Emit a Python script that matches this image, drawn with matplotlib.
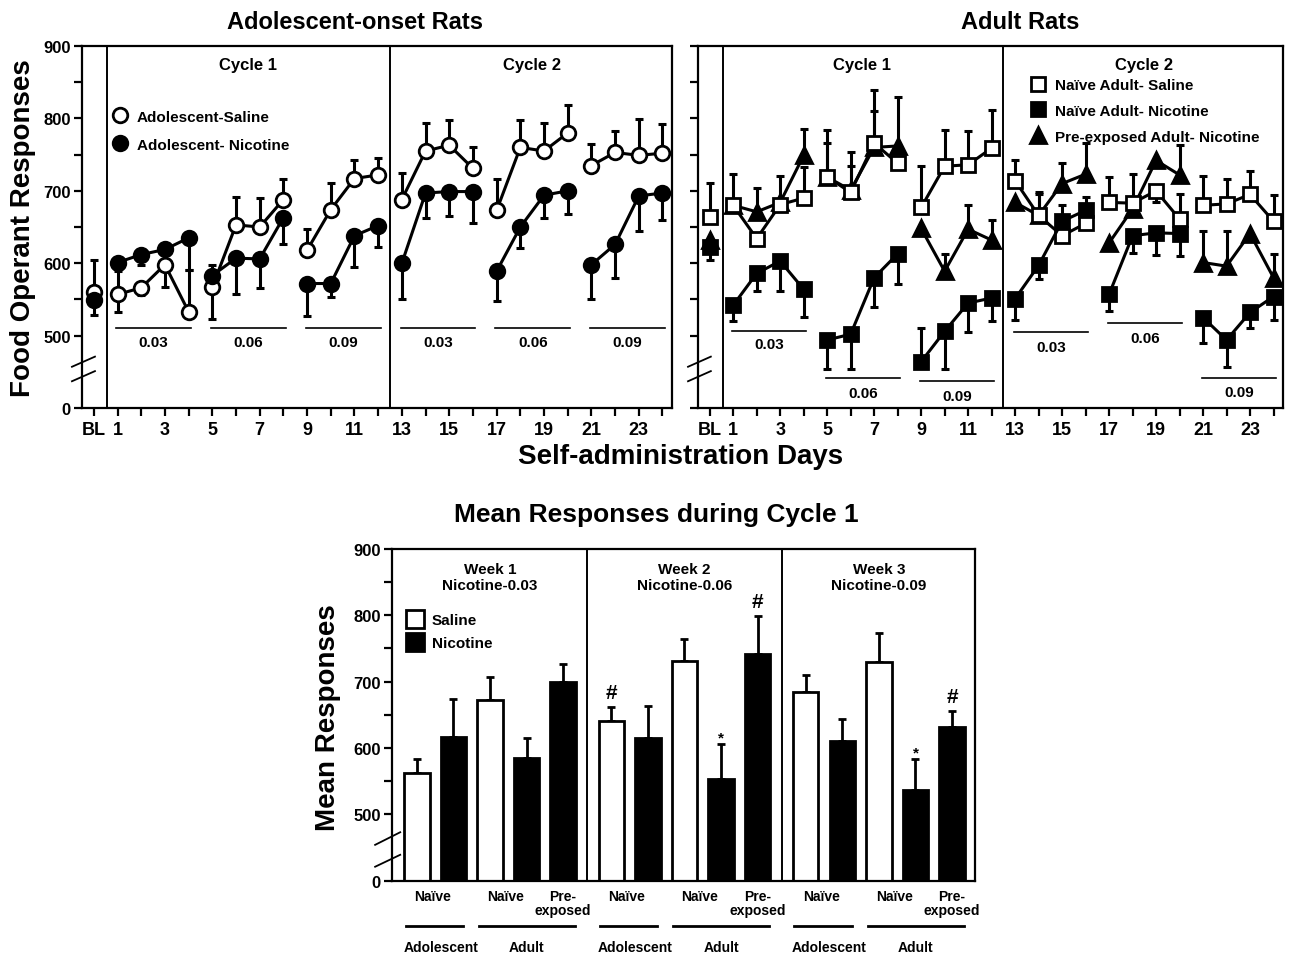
import numpy as np
import matplotlib
matplotlib.use('Agg')
import matplotlib.pyplot as plt
from matplotlib.lines import Line2D
from matplotlib.transforms import blended_transform_factory

plt.rcParams['font.family'] = ['Liberation Sans', 'DejaVu Sans']
plt.rcParams['font.weight'] = 'bold'
plt.rcParams['axes.labelweight'] = 'bold'

# ---------------- data ----------------
days = np.arange(0, 25)          # 0 = BL
day_tick_labels = ['BL'] + [str(d) if d % 2 == 1 else '' for d in range(1, 25)]
doses = ['0.03', '0.06', '0.09', '0.03', '0.06', '0.09']

# Adolescent-onset rats
ado_sal = [560, 557, 566, 598, 533, 567, 653, 650, 688, 618, 674, 717, 722,
           688, 755, 763, 731, 673, 760, 755, 780, 735, 753, 749, 752]
ado_sal_up = [45, 38, 8, 8, 58, 0, 38, 40, 29, 29, 37, 26, 24,
              36, 39, 35, 29, 44, 38, 39, 38, 30, 29, 50, 40]
ado_sal_dn = [0, 24, 10, 31, 0, 44, 0, 0, 0, 0, 0, 0, 0,
              0, 0, 0, 0, 0, 0, 0, 0, 0, 0, 0, 0]
ado_nic = [549, 601, 612, 619, 635, 583, 607, 606, 663, 572, 572, 638, 652,
           600, 697, 699, 699, 589, 650, 694, 700, 598, 626, 693, 697]
ado_nic_dn = [20, 12, 15, 0, 45, 0, 50, 40, 37, 45, 18, 43, 30,
              50, 34, 34, 44, 41, 29, 32, 32, 47, 47, 49, 37]
ado_nic_up = [0, 0, 0, 0, 0, 15, 0, 0, 0, 0, 0, 0, 0,
              0, 0, 0, 0, 0, 0, 0, 0, 0, 0, 0, 0]

# Adult rats
ad_sal = [664, 680, 634, 681, 690, 719, 698, 766, 738, 677, 734, 736, 759,
          714, 666, 638, 655, 684, 683, 700, 661, 680, 682, 695, 658]
ad_sal_up = [47, 43, 0, 39, 43, 65, 56, 73, 0, 58, 50, 46, 52,
             29, 30, 0, 0, 35, 40, 0, 34, 41, 35, 33, 36]
ad_sal_dn = [0, 0, 0, 0, 0, 0, 0, 0, 0, 0, 0, 0, 0,
             0, 0, 0, 0, 0, 0, 16, 0, 0, 0, 0, 0]
ad_nic = [622, 542, 586, 603, 564, 494, 502, 580, 613, 464, 506, 545, 552,
          551, 597, 658, 673, 557, 638, 642, 641, 525, 494, 532, 554]
ad_nic_dn = [18, 22, 25, 41, 38, 40, 48, 40, 41, 0, 52, 40, 32,
             30, 19, 0, 0, 23, 24, 31, 31, 35, 38, 22, 32]
ad_nic_up = [0, 0, 0, 0, 0, 0, 0, 0, 0, 47, 0, 0, 0,
             0, 0, 23, 18, 0, 0, 0, 0, 0, 0, 0, 0]
pre_nic = [632, 680, 671, 684, 749, 719, 701, 760, 762, 648, 589, 647, 632,
           684, 666, 710, 723, 628, 675, 742, 722, 601, 596, 641, 580]
pre_nic_up = [0, 0, 33, 0, 37, 47, 33, 50, 67, 0, 24, 33, 28,
              0, 33, 29, 43, 0, 0, 0, 41, 43, 48, 0, 33]
pre_nic_dn = [0] * 25

# Mean responses during cycle 1 (weeks 1..3)
week_labels = ['Week 1\nNicotine-0.03', 'Week 2\nNicotine-0.06', 'Week 3\nNicotine-0.09']
m_ado_sal = [562, 640, 684]
e_ado_sal = [21, 22, 26]
m_ado_nic = [617, 615, 610]
e_ado_nic = [57, 48, 34]
m_ad_sal = [672, 731, 729]
e_ad_sal = [35, 34, 44]
m_ad_nic = [585, 554, 537]
e_ad_nic = [30, 52, 46]
m_pre_nic = [699, 741, 631]
e_pre_nic = [28, 58, 25]
sig_marks = [['', '', '', '', ''], ['#', '', '', '*', '#'], ['', '', '', '*', '#']]

# ---------------- figure ----------------
fig = plt.figure(figsize=(12.93, 9.62), dpi=100)
fig.patch.set_facecolor('white')
axL = fig.add_axes([0.0634, 0.5748, 0.4563, 0.3763])
axR = fig.add_axes([0.5398, 0.5748, 0.4524, 0.3763])
axB = fig.add_axes([0.3032, 0.0835, 0.4509, 0.3448])

blocks = [[0]] + [list(range(s, s + 4)) for s in range(1, 25, 4)]


def style_top(ax, ylabels):
    ax.set_xlim(-0.5, 24.4)
    ax.set_ylim(400, 900)
    ax.set_yticks([400, 500, 600, 700, 800, 900])
    ax.set_yticks([550, 650, 750, 850], minor=True)
    ax.set_yticklabels(['0', '500', '600', '700', '800', '900'] if ylabels else [])
    ax.set_xticks(days)
    ax.set_xticklabels(day_tick_labels)
    ax.tick_params(axis='both', which='both', direction='out', length=6, width=1.6)
    ax.tick_params(axis='x', labelsize=13, pad=3)
    ax.tick_params(axis='y', labelsize=12, pad=2)
    for s in ax.spines.values():
        s.set_linewidth(1.6)
    ax.axvline(0.55, color='black', lw=1.4)
    ax.axvline(12.5, color='black', lw=1.4)
    tr = blended_transform_factory(ax.transAxes, ax.transData)
    ax.plot([-0.017, 0.022], [457, 471], color='black', lw=1.3, transform=tr, clip_on=False)
    ax.plot([-0.017, 0.022], [437, 451], color='black', lw=1.3, transform=tr, clip_on=False)
    ax.text(6.5, 875, 'Cycle 1', ha='center', va='center', fontsize=12)
    ax.text(18.5, 875, 'Cycle 2', ha='center', va='center', fontsize=12)


def plot_series(ax, vals, up, dn, marker, face, ms=10.5):
    vals = np.asarray(vals, dtype=float)
    up = np.asarray(up, dtype=float)
    dn = np.asarray(dn, dtype=float)
    ax.errorbar(days, vals, yerr=[dn, up], fmt='none', ecolor='black',
                elinewidth=2.2, capsize=3.2, capthick=2.2, zorder=2)
    for blk in blocks:
        ax.plot(days[blk], vals[blk], color='black', lw=2.2, marker=marker, ms=ms,
                mfc=face, mec='black', mew=2, zorder=3)


def dose_lines(ax, line_y, text_y):
    for i, blk in enumerate(blocks[1:]):
        x0, x1 = blk[0] - 0.05, blk[-1] + 0.1
        ax.plot([x0, x1], [line_y[i], line_y[i]], color='black', lw=1.2, clip_on=False)
        ax.text((x0 + x1) / 2, text_y[i], doses[i], ha='center', va='center', fontsize=11)


# Left panel
style_top(axL, True)
plot_series(axL, ado_sal, ado_sal_up, ado_sal_dn, 'o', 'white')
plot_series(axL, ado_nic, ado_nic_up, ado_nic_dn, 'o', 'black')
dose_lines(axL, [511] * 6, [491] * 6)
hL = [Line2D([], [], ls='none', marker='o', ms=10.5, mfc='white', mec='black', mew=2),
      Line2D([], [], ls='none', marker='o', ms=10.5, mfc='black', mec='black', mew=2)]
axL.legend(hL, ['Adolescent-Saline', 'Adolescent- Nicotine'], loc='upper left',
           bbox_to_anchor=(0.052, 0.824), frameon=False, fontsize=11, handlelength=1.0,
           handletextpad=0.6, labelspacing=0.9, borderpad=0, borderaxespad=0)

# Right panel
style_top(axR, False)
plot_series(axR, pre_nic, pre_nic_up, pre_nic_dn, '^', 'black', ms=11)
plot_series(axR, ad_sal, ad_sal_up, ad_sal_dn, 's', 'white')
plot_series(axR, ad_nic, ad_nic_up, ad_nic_dn, 's', 'black')
dose_lines(axR, [506, 441, 438, 505, 517, 441], [488, 421, 416, 485, 497, 422])
hR = [Line2D([], [], ls='none', marker='s', ms=10.5, mfc='white', mec='black', mew=2),
      Line2D([], [], ls='none', marker='s', ms=10.5, mfc='black', mec='black', mew=2),
      Line2D([], [], ls='none', marker='^', ms=11, mfc='black', mec='black', mew=2)]
axR.legend(hR, ['Naïve Adult- Saline', 'Naïve Adult- Nicotine', 'Pre-exposed Adult- Nicotine'],
           loc='upper left', bbox_to_anchor=(0.569, 0.912), frameon=False, fontsize=11,
           handlelength=1.0, handletextpad=0.6, labelspacing=0.78, borderpad=0, borderaxespad=0)

# ---------------- bottom bar chart ----------------
week_gap = 5.32
bar_w = 0.69
series = [(m_ado_sal, e_ado_sal, 'white'), (m_ado_nic, e_ado_nic, 'black'),
          (m_ad_sal, e_ad_sal, 'white'), (m_ad_nic, e_ad_nic, 'black'),
          (m_pre_nic, e_pre_nic, 'black')]
for j, (m, e, face) in enumerate(series):
    x = np.arange(3) * week_gap + j
    axB.bar(x, m, width=bar_w, color=face, edgecolor='black', linewidth=2, zorder=2)
    axB.errorbar(x, m, yerr=[np.zeros(3), e], fmt='none', ecolor='black',
                 elinewidth=2, capsize=3, capthick=2, zorder=1)
    for w in range(3):
        mk = sig_marks[w][j]
        if mk == '#':
            axB.text(x[w], m[w] + e[w] + 22, '#', ha='center', va='center', fontsize=15)
        elif mk == '*':
            axB.text(x[w], m[w] + e[w] + 10, '*', ha='center', va='center', fontsize=11)

axB.set_xlim(-0.68, 2 * week_gap + 4.63)
axB.set_ylim(400, 900)
axB.set_yticks([400, 500, 600, 700, 800, 900])
axB.set_yticks([550, 650, 750, 850], minor=True)
axB.set_yticklabels(['0', '500', '600', '700', '800', '900'])
axB.set_xticks([])
axB.tick_params(axis='y', which='both', direction='out', length=6, width=1.6, labelsize=12, pad=2)
for s in axB.spines.values():
    s.set_linewidth(1.6)
for w in range(1, 3):
    axB.axvline(w * week_gap - 0.66, color='black', lw=1.4)
trB = blended_transform_factory(axB.transAxes, axB.transData)
axB.plot([-0.029, 0.014], [454, 473], color='black', lw=1.3, transform=trB, clip_on=False)
axB.plot([-0.029, 0.014], [421, 439], color='black', lw=1.3, transform=trB, clip_on=False)

xt = axB.get_xaxis_transform()
for w in range(3):
    base = w * week_gap
    axB.text(base + 2, 858, week_labels[w], ha='center', va='center', fontsize=11, linespacing=1.15)
    axB.text(base + 0.42, -0.045, 'Naïve', ha='center', va='center', fontsize=10, transform=xt)
    axB.text(base + 2.42, -0.045, 'Naïve', ha='center', va='center', fontsize=10, transform=xt)
    axB.text(base + 4.0, -0.045, 'Pre-', ha='center', va='center', fontsize=10, transform=xt)
    axB.text(base + 4.0, -0.088, 'exposed', ha='center', va='center', fontsize=10, transform=xt)
    axB.plot([base - 0.31, base + 1.26], [-0.136, -0.136], color='black', lw=2, transform=xt, clip_on=False)
    axB.plot([base + 1.70, base + 4.32], [-0.136, -0.136], color='black', lw=2, transform=xt, clip_on=False)
    axB.text(base + 0.65, -0.2, 'Adolescent', ha='center', va='center', fontsize=10, transform=xt)
    axB.text(base + 3.0, -0.2, 'Adult', ha='center', va='center', fontsize=10, transform=xt)

hB = [Line2D([], [], ls='none', marker='s', ms=12.5, mfc='white', mec='black', mew=2),
      Line2D([], [], ls='none', marker='s', ms=12.5, mfc='black', mec='black', mew=2)]
axB.legend(hB, ['Saline', 'Nicotine'], loc='upper left', bbox_to_anchor=(0.026, 0.806),
           frameon=False, fontsize=11, handlelength=1.0, handletextpad=0.6,
           labelspacing=0.6, borderpad=0, borderaxespad=0)

# ---------------- titles / labels ----------------
narrow = ['Liberation Sans Narrow', 'Liberation Sans', 'DejaVu Sans']
fig.text(0.2746, 0.977, 'Adolescent-onset Rats', ha='center', va='center', fontsize=17, family=narrow)
fig.text(0.789, 0.977, 'Adult Rats', ha='center', va='center', fontsize=17, family=narrow)
fig.text(0.018, 0.7625, 'Food Operant Responses', ha='center', va='center', rotation=90, fontsize=20)
fig.text(0.526, 0.525, 'Self-administration Days', ha='center', va='center', fontsize=20)
fig.text(0.5075, 0.4647, 'Mean Responses during Cycle 1', ha='center', va='center', fontsize=19)
fig.text(0.2537, 0.2536, 'Mean Responses', ha='center', va='center', rotation=90, fontsize=20)

fig.savefig('out.png', dpi=100, facecolor='white')
